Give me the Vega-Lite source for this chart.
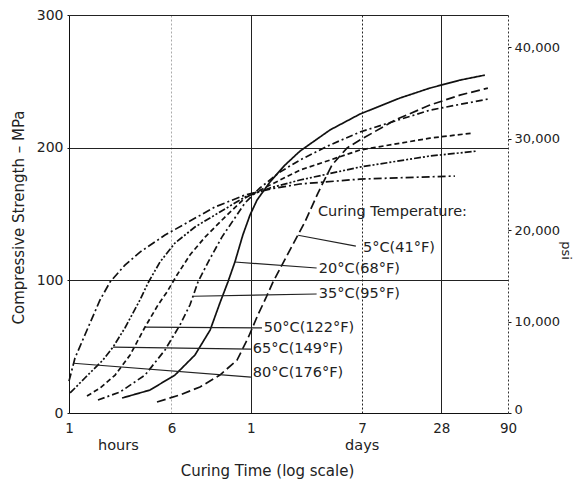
{
  "$schema": "https://vega.github.io/schema/vega-lite/v6.json",
  "width": 439,
  "height": 398,
  "autosize": {"type": "none"},
  "padding": {"left": 69, "top": 15, "right": 72, "bottom": 72},
  "background": "white",
  "config": {
    "view": {"stroke": null},
    "font": "DejaVu Sans",
    "axis": {"labelFont": "DejaVu Sans", "titleFont": "DejaVu Sans", "labelColor": "#222", "titleColor": "#222", "titleFontWeight": "normal", "domainColor": "#111", "tickColor": "#111"}
  },
  "datasets": {
    "curves": [
      {"temp": "80", "hours": 1.0, "mpa": 24.0},
      {"temp": "80", "hours": 1.11, "mpa": 41.4},
      {"temp": "80", "hours": 1.32, "mpa": 58.8},
      {"temp": "80", "hours": 1.72, "mpa": 85.2},
      {"temp": "80", "hours": 2.05, "mpa": 98.7},
      {"temp": "80", "hours": 2.66, "mpa": 111.5},
      {"temp": "80", "hours": 3.46, "mpa": 121.3},
      {"temp": "80", "hours": 5.36, "mpa": 134.1},
      {"temp": "80", "hours": 8.29, "mpa": 144.7},
      {"temp": "80", "hours": 12.8, "mpa": 155.2},
      {"temp": "80", "hours": 21.7, "mpa": 164.3},
      {"temp": "80", "hours": 33.6, "mpa": 168.8},
      {"temp": "80", "hours": 56.8, "mpa": 172.6},
      {"temp": "80", "hours": 162, "mpa": 176.3},
      {"temp": "80", "hours": 463, "mpa": 177.8},
      {"temp": "80", "hours": 853, "mpa": 178.6},

      {"temp": "65", "hours": 1.02, "mpa": 15.1},
      {"temp": "65", "hours": 1.32, "mpa": 26.4},
      {"temp": "65", "hours": 1.81, "mpa": 39.9},
      {"temp": "65", "hours": 2.16, "mpa": 49.7},
      {"temp": "65", "hours": 2.66, "mpa": 64.1},
      {"temp": "65", "hours": 3.46, "mpa": 85.2},
      {"temp": "65", "hours": 3.98, "mpa": 98.0},
      {"temp": "65", "hours": 4.91, "mpa": 113.8},
      {"temp": "65", "hours": 6.38, "mpa": 128.1},
      {"temp": "65", "hours": 9.05, "mpa": 140.2},
      {"temp": "65", "hours": 14.0, "mpa": 151.5},
      {"temp": "65", "hours": 21.7, "mpa": 162.8},
      {"temp": "65", "hours": 33.6, "mpa": 169.6},
      {"temp": "65", "hours": 56.8, "mpa": 175.6},
      {"temp": "65", "hours": 162, "mpa": 185.4},
      {"temp": "65", "hours": 551, "mpa": 193.7},
      {"temp": "65", "hours": 1253, "mpa": 197.4},

      {"temp": "50", "hours": 1.37, "mpa": 12.8},
      {"temp": "50", "hours": 1.72, "mpa": 18.8},
      {"temp": "50", "hours": 2.24, "mpa": 28.6},
      {"temp": "50", "hours": 2.91, "mpa": 43.7},
      {"temp": "50", "hours": 3.78, "mpa": 64.8},
      {"temp": "50", "hours": 4.74, "mpa": 81.4},
      {"temp": "50", "hours": 5.55, "mpa": 91.2},
      {"temp": "50", "hours": 6.61, "mpa": 104.0},
      {"temp": "50", "hours": 8.29, "mpa": 119.1},
      {"temp": "50", "hours": 10.8, "mpa": 132.6},
      {"temp": "50", "hours": 15.3, "mpa": 147.7},
      {"temp": "50", "hours": 21.7, "mpa": 162.0},
      {"temp": "50", "hours": 33.6, "mpa": 171.8},
      {"temp": "50", "hours": 56.8, "mpa": 183.1},
      {"temp": "50", "hours": 162, "mpa": 198.2},
      {"temp": "50", "hours": 551, "mpa": 207.2},
      {"temp": "50", "hours": 1168, "mpa": 211.0},

      {"temp": "35", "hours": 1.66, "mpa": 9.8},
      {"temp": "35", "hours": 2.44, "mpa": 15.8},
      {"temp": "35", "hours": 3.78, "mpa": 28.6},
      {"temp": "35", "hours": 5.36, "mpa": 47.5},
      {"temp": "35", "hours": 6.96, "mpa": 66.3},
      {"temp": "35", "hours": 8.29, "mpa": 81.4},
      {"temp": "35", "hours": 9.54, "mpa": 98.7},
      {"temp": "35", "hours": 11.4, "mpa": 113.8},
      {"temp": "35", "hours": 14.5, "mpa": 132.6},
      {"temp": "35", "hours": 21.7, "mpa": 158.3},
      {"temp": "35", "hours": 28.2, "mpa": 169.6},
      {"temp": "35", "hours": 40.0, "mpa": 181.6},
      {"temp": "35", "hours": 56.8, "mpa": 190.7},
      {"temp": "35", "hours": 95.9, "mpa": 202.0},
      {"temp": "35", "hours": 162, "mpa": 211.8},
      {"temp": "35", "hours": 551, "mpa": 228.3},
      {"temp": "35", "hours": 1519, "mpa": 236.6},

      {"temp": "20", "hours": 2.53, "mpa": 11.3},
      {"temp": "20", "hours": 4.12, "mpa": 17.3},
      {"temp": "20", "hours": 6.38, "mpa": 28.6},
      {"temp": "20", "hours": 9.05, "mpa": 43.7},
      {"temp": "20", "hours": 11.8, "mpa": 62.5},
      {"temp": "20", "hours": 14.0, "mpa": 82.9},
      {"temp": "20", "hours": 16.1, "mpa": 98.7},
      {"temp": "20", "hours": 18.2, "mpa": 113.8},
      {"temp": "20", "hours": 20.9, "mpa": 134.1},
      {"temp": "20", "hours": 23.7, "mpa": 149.2},
      {"temp": "20", "hours": 26.8, "mpa": 160.5},
      {"temp": "20", "hours": 33.6, "mpa": 174.1},
      {"temp": "20", "hours": 43.7, "mpa": 186.9},
      {"temp": "20", "hours": 56.8, "mpa": 197.4},
      {"temp": "20", "hours": 95.9, "mpa": 213.3},
      {"temp": "20", "hours": 162, "mpa": 225.3},
      {"temp": "20", "hours": 326, "mpa": 237.4},
      {"temp": "20", "hours": 551, "mpa": 244.9},
      {"temp": "20", "hours": 931, "mpa": 250.9},
      {"temp": "20", "hours": 1441, "mpa": 254.7},

      {"temp": "5", "hours": 4.66, "mpa": 8.3},
      {"temp": "5", "hours": 6.96, "mpa": 13.6},
      {"temp": "5", "hours": 9.88, "mpa": 19.6},
      {"temp": "5", "hours": 14.0, "mpa": 28.6},
      {"temp": "5", "hours": 18.9, "mpa": 39.9},
      {"temp": "5", "hours": 22.9, "mpa": 56.5},
      {"temp": "5", "hours": 27.2, "mpa": 73.9},
      {"temp": "5", "hours": 31.3, "mpa": 86.7},
      {"temp": "5", "hours": 35.4, "mpa": 98.7},
      {"temp": "5", "hours": 47.6, "mpa": 122.8},
      {"temp": "5", "hours": 61.9, "mpa": 143.9},
      {"temp": "5", "hours": 77.8, "mpa": 165.8},
      {"temp": "5", "hours": 99.3, "mpa": 186.9},
      {"temp": "5", "hours": 129, "mpa": 199.7},
      {"temp": "5", "hours": 162, "mpa": 205.7},
      {"temp": "5", "hours": 299, "mpa": 220.8},
      {"temp": "5", "hours": 551, "mpa": 232.1},
      {"temp": "5", "hours": 931, "mpa": 239.6},
      {"temp": "5", "hours": 1519, "mpa": 244.9}
    ],
    "pointers": [
      {"temp": "5", "h1": 151, "m1": 125.8, "h2": 55, "m2": 134},
      {"temp": "20", "h1": 76, "m1": 109.3, "h2": 18.2, "m2": 113.8},
      {"temp": "35", "h1": 76, "m1": 89.7, "h2": 8.74, "m2": 88},
      {"temp": "50", "h1": 29.2, "m1": 64.1, "h2": 3.78, "m2": 64.8},
      {"temp": "65", "h1": 24.1, "m1": 48.2, "h2": 2.16, "m2": 49.7},
      {"temp": "80", "h1": 24.1, "m1": 27.1, "h2": 1.08, "m2": 37.5}
    ],
    "texts": [
      {"label": "Curing Temperature:", "hours": 77.8, "mpa": 151.5},
      {"label": "5°C(41°F)", "hours": 171, "mpa": 124.3},
      {"label": "20°C(68°F)", "hours": 79, "mpa": 108.5},
      {"label": "35°C(95°F)", "hours": 79, "mpa": 89.7},
      {"label": "50°C(122°F)", "hours": 30.2, "mpa": 64.1},
      {"label": "65°C(149°F)", "hours": 24.9, "mpa": 48.2},
      {"label": "80°C(176°F)", "hours": 24.9, "mpa": 30.1},
      {"label": "hours", "hours": 1.66, "mpa": -24.5},
      {"label": "days", "hours": 125, "mpa": -24.5}
    ],
    "psi": [{"psi": 0}, {"psi": 43500}]
  },
  "layer": [
    {
      "layer": [
        {
          "data": {"name": "curves"},
          "mark": {"type": "line", "color": "#111", "strokeWidth": 1.7},
          "encoding": {
            "x": {
              "field": "hours", "type": "quantitative",
              "scale": {"type": "log", "domain": [1, 2160], "nice": false},
              "axis": {
                "values": [1, 6, 24, 168, 672, 2160],
                "labelExpr": "datum.value == 1 ? '1' : datum.value == 6 ? '6' : datum.value == 24 ? '1' : datum.value == 168 ? '7' : datum.value == 672 ? '28' : '90'",
                "labelFontSize": 13.5,
                "labelPadding": 8,
                "tickSize": 0,
                "labelFlush": false,
                "grid": true,
                "gridColor": {"condition": {"test": "datum.value == 6", "value": "#aaa"}, "value": "#222"},
                "gridDash": {"condition": {"test": "datum.value == 6 || datum.value == 168", "value": [2, 2]}, "value": []},
                "gridOpacity": {"condition": {"test": "datum.value == 1 || datum.value == 2160", "value": 0}, "value": 1},
                "title": "Curing Time (log scale)",
                "titleFontSize": 15,
                "titleX": 198,
                "titleY": 57,
                "titleBaseline": "middle",
                "titleAlign": "center"
              }
            },
            "y": {
              "field": "mpa", "type": "quantitative",
              "scale": {"domain": [0, 300], "nice": false},
              "axis": {
                "values": [0, 100, 200, 300],
                "labelFontSize": 14,
                "labelPadding": 4,
                "tickSize": 2,
                "grid": true,
                "gridColor": "#222",
                "gridOpacity": {"condition": {"test": "datum.value == 0", "value": 0}, "value": 1},
                "title": "Compressive Strength – MPa",
                "titleFontSize": 15,
                "titleX": -51,
                "titleY": 202,
                "titleAngle": 270,
                "titleAlign": "center",
                "titleBaseline": "middle"
              }
            },
            "detail": {"field": "temp"},
            "strokeDash": {
              "field": "temp", "type": "nominal",
              "scale": {
                "domain": ["5", "20", "35", "50", "65", "80"],
                "range": [[9, 4], [1, 0], [7, 3, 2, 3], [5, 3], [7, 2, 2, 2, 2, 2], [8, 3, 2, 3]]
              },
              "legend": null
            }
          }
        },
        {
          "data": {"name": "pointers"},
          "mark": {"type": "rule", "color": "#222", "strokeWidth": 1.2},
          "encoding": {
            "x": {"field": "h1", "type": "quantitative"},
            "y": {"field": "m1", "type": "quantitative"},
            "x2": {"field": "h2"},
            "y2": {"field": "m2"}
          }
        },
        {
          "data": {"name": "texts"},
          "mark": {"type": "text", "align": "left", "baseline": "middle", "fontSize": 14.5, "font": "DejaVu Sans", "color": "#222"},
          "encoding": {
            "x": {"field": "hours", "type": "quantitative"},
            "y": {"field": "mpa", "type": "quantitative"},
            "text": {"field": "label"}
          }
        }
      ]
    },
    {
      "data": {"name": "psi"},
      "mark": {"type": "point", "opacity": 0},
      "encoding": {
        "y": {
          "field": "psi", "type": "quantitative",
          "scale": {"domain": [0, 43500], "nice": false},
          "axis": {
            "orient": "right",
            "values": [0, 10000, 20000, 30000, 40000],
            "labelExpr": "format(datum.value, ',')",
            "labelFontSize": 13,
            "labelPadding": 3,
            "labelOffset": {"condition": {"test": "datum.value == 0", "value": -4}, "value": 0},
            "tickSize": 3,
            "grid": false,
            "domainDash": [2, 2],
            "domainColor": "#333",
            "title": "psi",
            "titleFontSize": 13,
            "titleAngle": 90,
            "titleX": 57,
            "titleY": 235,
            "titleAlign": "center",
            "titleBaseline": "middle"
          }
        }
      }
    }
  ],
  "resolve": {"scale": {"y": "independent"}}
}
